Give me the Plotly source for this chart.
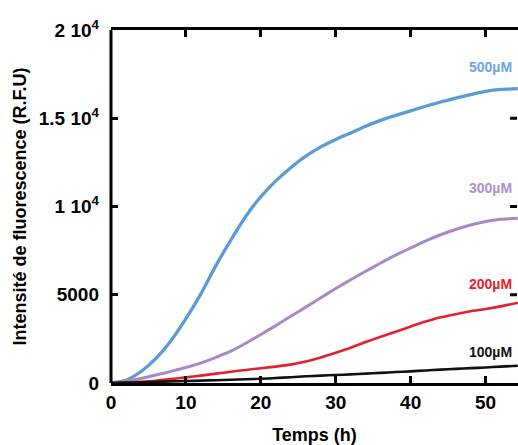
import plotly.graph_objects as go

temps_h = [0, 2, 4, 6, 8, 10, 12, 14, 16, 18, 20, 22, 24, 26, 28, 30, 32, 34, 36, 38, 40, 42, 44, 46, 48, 50, 52, 54.3]
c500 = [0, 150, 650, 1400, 2400, 3650, 5050, 6650, 8100, 9450, 10550, 11450, 12200, 12850, 13380, 13800, 14170, 14550, 14880, 15160, 15420, 15680, 15920, 16140, 16340, 16520, 16630, 16680]
c300 = [0, 100, 260, 450, 660, 880, 1130, 1450, 1800, 2250, 2750, 3250, 3780, 4300, 4830, 5350, 5850, 6330, 6800, 7250, 7650, 8050, 8400, 8700, 8950, 9150, 9280, 9330]
c200 = [0, 25, 70, 130, 220, 320, 420, 530, 640, 740, 840, 930, 1040, 1220, 1450, 1720, 2000, 2320, 2620, 2900, 3200, 3480, 3720, 3900, 4060, 4190, 4340, 4550]
c100 = [0, 20, 45, 70, 90, 110, 135, 160, 185, 210, 240, 280, 330, 380, 420, 450, 490, 530, 575, 620, 660, 710, 760, 800, 840, 880, 930, 980]

series = [
    ("500µM", c500, "#5B9BD5", "#6AA6DC", 3.3, 17900),
    ("300µM", c300, "#A888C8", "#A98FCB", 3.0, 11050),
    ("200µM", c200, "#E4202A", "#E4202A", 2.6, 5610),
    ("100µM", c100, "#111111", "#111111", 2.6, 1756),
]

y_ticks = [0, 5000, 10000, 15000, 20000]
y_ticktext = ["0", "5000", "1 10<sup>4</sup>", "1.5 10<sup>4</sup>", "2 10<sup>4</sup>"]
x_ticks = [0, 10, 20, 30, 40, 50]

font = "Liberation Sans, Arial, sans-serif"
fig = go.Figure()
for name, vals, col, lcol, w, ylab in series:
    fig.add_trace(go.Scatter(x=temps_h, y=vals, mode="lines", name=name,
                             line=dict(color=col, width=w, shape="spline", smoothing=0.6),
                             showlegend=False))
    fig.add_annotation(x=50.6, y=ylab, text="<b>%s</b>" % name, showarrow=False,
                       font=dict(family=font, size=14, color=lcol),
                       xanchor="center", yanchor="middle")

# y-axis title placed as a rotated annotation left of the tick labels
fig.add_annotation(xref="paper", yref="paper", x=0, y=0.5, xshift=-92, textangle=-90,
                   text="<b>Intensité de fluorescence (R.F.U)</b>", showarrow=False,
                   font=dict(family=font, size=18, color="black"),
                   xanchor="center", yanchor="middle")

# left axis line (the right one lies outside the cropped frame; only its ticks show)
fig.add_shape(type="line", xref="paper", yref="paper", x0=0, x1=0, y0=0, y1=1,
              line=dict(color="black", width=3), layer="above")
# inward ticks of the (cropped) right-hand axis
for v in y_ticks[1:4]:
    fig.add_shape(type="line", xref="paper", yref="y", xsizemode="pixel", xanchor=1,
                  x0=-8, x1=-1, y0=v, y1=v, line=dict(color="black", width=3), layer="above")

fig.update_layout(
    width=518, height=445,
    margin=dict(l=111, r=0, t=30, b=62, autoexpand=False),
    plot_bgcolor="white", paper_bgcolor="white",
    font=dict(family=font, color="black"),
    xaxis=dict(range=[0, 54.33], tickvals=x_ticks, ticks="inside", ticklen=7, tickwidth=2.5,
               tickcolor="black", showline=True, linewidth=3, linecolor="black", mirror="ticks",
               showgrid=False, zeroline=False, automargin=False,
               tickfont=dict(size=19, family=font, color="black", weight="bold"),
               title=dict(text="<b>Temps (h)</b>", font=dict(size=18, family=font), standoff=20)),
    yaxis=dict(range=[0, 20000], tickvals=y_ticks, ticktext=y_ticktext, ticks="inside", ticklen=7,
               tickwidth=2.5, tickcolor="black", showline=False, mirror=False,
               showgrid=False, zeroline=False, ticklabelstandoff=11, automargin=False,
               tickfont=dict(size=19, family=font, color="black", weight="bold")),
)
fig.write_html("out.html", config={"displayModeBar": False},
               post_script="document.body.style.margin='0';document.body.style.overflow='hidden';")
